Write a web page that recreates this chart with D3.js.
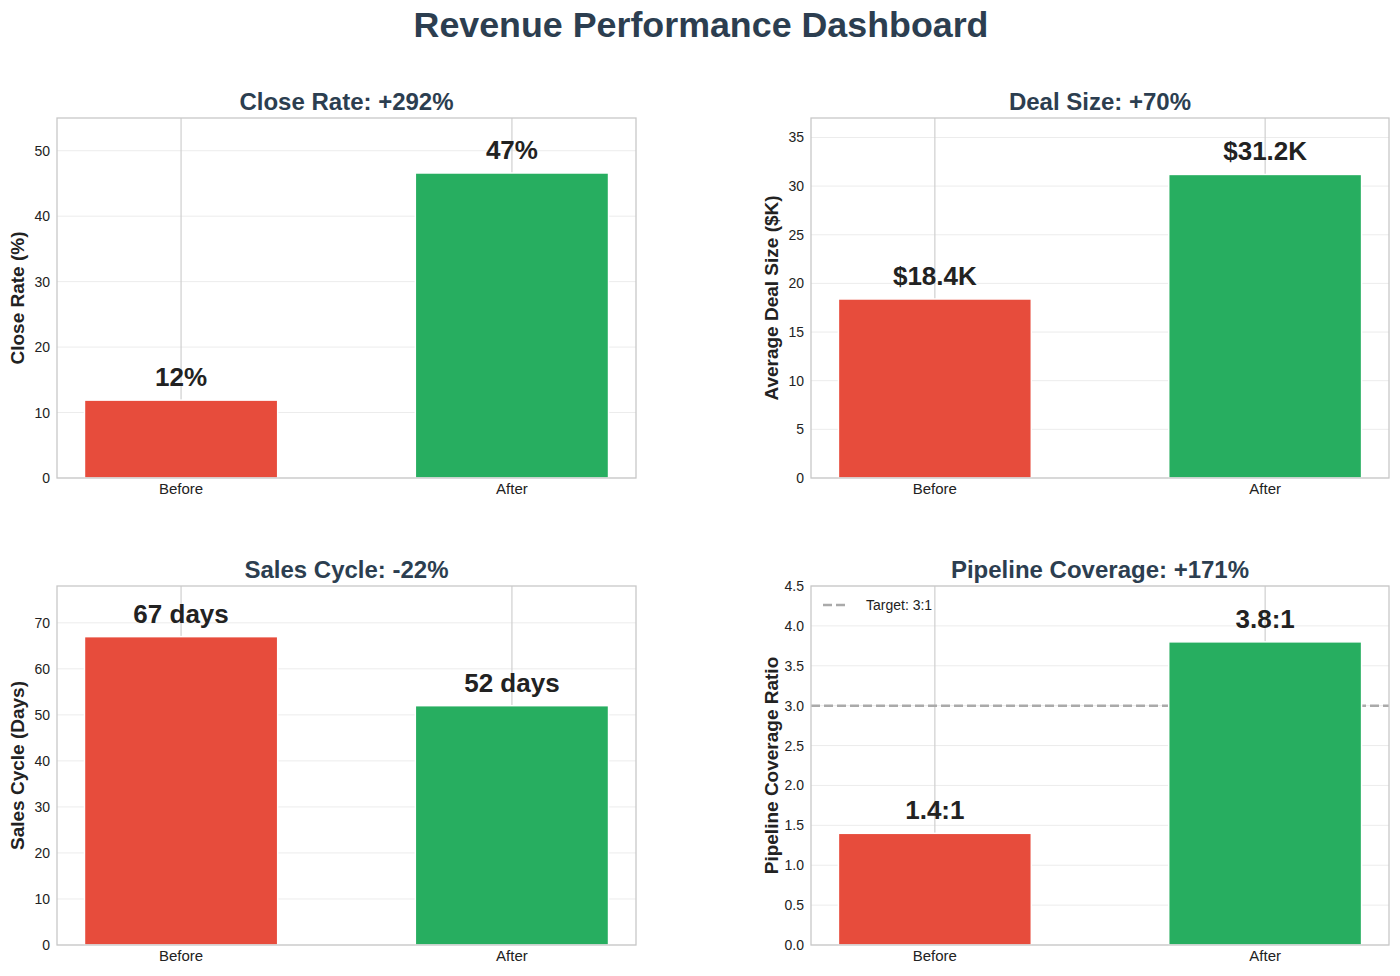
<!DOCTYPE html>
<html>
<head>
<meta charset="utf-8">
<script src="https://cdn.jsdelivr.net/npm/d3@7"></script>
<style>
  body { margin: 0; background: #fff; }
  text { font-family: "Liberation Sans", Arial, sans-serif; }
</style>
</head>
<body>
<div id="chart"></div>
<script>
// DATA
const categories = ["Before", "After"];
const closeRate = [11.9, 46.6];
const dealSize = [18.4, 31.2];
const salesCycle = [67, 52];
const pipelineCoverage = [1.4, 3.8];
const targetRatio = 3.0;

const closeRateTicks = [0, 10, 20, 30, 40, 50];
const dealSizeTicks = [0, 5, 10, 15, 20, 25, 30, 35];
const salesCycleTicks = [0, 10, 20, 30, 40, 50, 60, 70];
const pipelineTicks = [0, 0.5, 1, 1.5, 2, 2.5, 3, 3.5, 4, 4.5];

const barColors = ["#e74c3c", "#27ae60"];

const W = 1400, H = 976;
const svg = d3.select("#chart").append("svg")
    .attr("width", W)
    .attr("height", H);

svg.append("text")
    .attr("x", 701)
    .attr("y", 37)
    .attr("text-anchor", "middle")
    .attr("font-size", 35.8)
    .attr("font-weight", "bold")
    .attr("fill", "#2c3e50")
    .text("Revenue Performance Dashboard");

// one subplot
function drawPanel(opts) {
    const { left, top, w, h, values, yMax, ticks, tickFmt, title, yLabel, labelFmt } = opts;
    const g = svg.append("g").attr("transform", `translate(${left},${top})`);

    const x = d3.scaleLinear().domain([-0.375, 1.375]).range([0, w]);
    const y = d3.scaleLinear().domain([0, yMax]).range([h, 0]);

    // grid
    g.append("g").selectAll("line")
        .data(ticks)
        .enter().append("line")
        .attr("x1", 0).attr("x2", w)
        .attr("y1", d => y(d)).attr("y2", d => y(d))
        .attr("stroke", "#ececec")
        .attr("stroke-width", 1);

    g.append("g").selectAll("line")
        .data(categories)
        .enter().append("line")
        .attr("x1", (d, i) => x(i)).attr("x2", (d, i) => x(i))
        .attr("y1", 0).attr("y2", h)
        .attr("stroke", "#cfcfcf")
        .attr("stroke-width", 1.2);

    // target line (pipeline only)
    if (opts.target != null) {
        g.append("line")
            .attr("x1", 0).attr("x2", w)
            .attr("y1", y(opts.target)).attr("y2", y(opts.target))
            .attr("stroke", "#aaaaaa")
            .attr("stroke-width", 2.5)
            .attr("stroke-dasharray", "9,4");
    }

    // bars
    g.selectAll("rect.bar")
        .data(values)
        .enter().append("rect")
        .attr("class", "bar")
        .attr("x", (d, i) => x(i - 0.292))
        .attr("width", x(0.292) - x(-0.292))
        .attr("y", d => y(d))
        .attr("height", d => h - y(d))
        .attr("fill", (d, i) => barColors[i])
        .attr("stroke", "#ffffff")
        .attr("stroke-width", 1.5);

    // bar labels
    g.selectAll("text.val")
        .data(values)
        .enter().append("text")
        .attr("class", "val")
        .attr("x", (d, i) => x(i))
        .attr("y", d => y(d) - 14)
        .attr("text-anchor", "middle")
        .attr("font-size", 26)
        .attr("font-weight", "bold")
        .attr("fill", "#222")
        .text(d => labelFmt(d));

    // frame
    g.append("rect")
        .attr("width", w).attr("height", h)
        .attr("fill", "none")
        .attr("stroke", "#c8c8c8")
        .attr("stroke-width", 1.3);

    // y ticks
    g.append("g").selectAll("text")
        .data(ticks)
        .enter().append("text")
        .attr("x", -7)
        .attr("y", d => y(d) + 5)
        .attr("text-anchor", "end")
        .attr("font-size", 14)
        .attr("fill", "#222")
        .text(d => tickFmt(d));

    // x ticks
    g.append("g").selectAll("text")
        .data(categories)
        .enter().append("text")
        .attr("x", (d, i) => x(i))
        .attr("y", h + 16)
        .attr("text-anchor", "middle")
        .attr("font-size", 15)
        .attr("fill", "#222")
        .text(d => d);

    // title
    g.append("text")
        .attr("x", w / 2)
        .attr("y", -8)
        .attr("text-anchor", "middle")
        .attr("font-size", 24)
        .attr("font-weight", "bold")
        .attr("fill", "#2c3e50")
        .text(title);

    // y label
    g.append("text")
        .attr("transform", `translate(${-33},${h / 2}) rotate(-90)`)
        .attr("text-anchor", "middle")
        .attr("font-size", 19)
        .attr("font-weight", "bold")
        .attr("fill", "#222")
        .text(yLabel);

    // legend
    if (opts.target != null) {
        g.append("line")
            .attr("x1", 12).attr("x2", 38)
            .attr("y1", 19).attr("y2", 19)
            .attr("stroke", "#aaaaaa")
            .attr("stroke-width", 2.5)
            .attr("stroke-dasharray", "9,4");
        g.append("text")
            .attr("x", 55)
            .attr("y", 24)
            .attr("font-size", 14)
            .attr("fill", "#222")
            .text(opts.targetLabel);
    }
}

drawPanel({
    left: 57, top: 118, w: 579, h: 360,
    values: closeRate, yMax: 55, ticks: closeRateTicks,
    tickFmt: d3.format("d"),
    title: "Close Rate: +292%", yLabel: "Close Rate (%)",
    labelFmt: d => `${Math.round(d)}%`
});

drawPanel({
    left: 811, top: 118, w: 578, h: 360,
    values: dealSize, yMax: 37, ticks: dealSizeTicks,
    tickFmt: d3.format("d"),
    title: "Deal Size: +70%", yLabel: "Average Deal Size ($K)",
    labelFmt: d => `$${d.toFixed(1)}K`
});

drawPanel({
    left: 57, top: 586, w: 579, h: 359,
    values: salesCycle, yMax: 78, ticks: salesCycleTicks,
    tickFmt: d3.format("d"),
    title: "Sales Cycle: -22%", yLabel: "Sales Cycle (Days)",
    labelFmt: d => `${d} days`
});

drawPanel({
    left: 811, top: 586, w: 578, h: 359,
    values: pipelineCoverage, yMax: 4.5, ticks: pipelineTicks,
    tickFmt: d3.format(".1f"),
    title: "Pipeline Coverage: +171%", yLabel: "Pipeline Coverage Ratio",
    labelFmt: d => `${d.toFixed(1)}:1`,
    target: targetRatio, targetLabel: "Target: 3:1"
});
</script>
</body>
</html>
